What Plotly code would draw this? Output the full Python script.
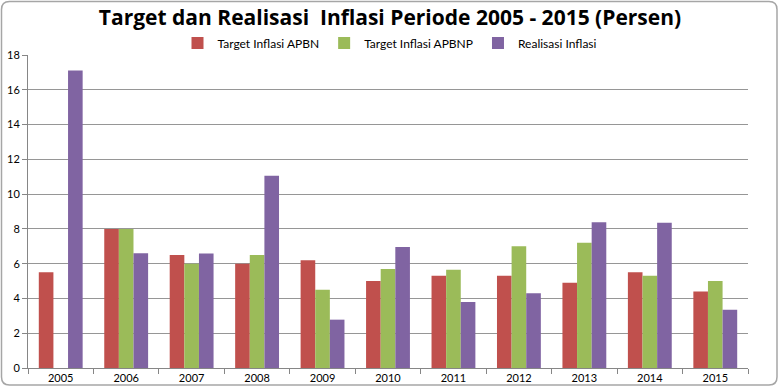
import plotly.graph_objects as go

years = ["2005", "2006", "2007", "2008", "2009", "2010", "2011", "2012", "2013", "2014", "2015"]
target_apbn = [5.5, 8.0, 6.5, 6.0, 6.2, 5.0, 5.3, 5.3, 4.9, 5.5, 4.4]
target_apbnp = [None, 8.0, 6.0, 6.5, 4.5, 5.7, 5.65, 7.0, 7.2, 5.3, 5.0]
realisasi = [17.11, 6.6, 6.59, 11.06, 2.78, 6.96, 3.79, 4.3, 8.38, 8.36, 3.35]

W, H = 780, 390
L, R, T, B = 28, 32, 55, 22
pw, ph = W - L - R, H - T - B

fig = go.Figure()
fig.add_bar(x=years, y=target_apbn, name="Target Inflasi APBN", marker_color="#C0504D", marker_line_width=0)
fig.add_bar(x=years, y=target_apbnp, name="Target Inflasi APBNP", marker_color="#9BBB59", marker_line_width=0)
fig.add_bar(x=years, y=realisasi, name="Realisasi Inflasi", marker_color="#8064A2", marker_line_width=0)

def px(x):
    return (x - L) / pw

def py(y):
    return (H - B - y) / ph

# rounded outer frame
x0, x1, y0, y1, r = 1.5, 777, 1.5, 385, 8
path = (f"M {px(x0+r)},{py(y0)} L {px(x1-r)},{py(y0)} Q {px(x1)},{py(y0)} {px(x1)},{py(y0+r)} "
        f"L {px(x1)},{py(y1-r)} Q {px(x1)},{py(y1)} {px(x1-r)},{py(y1)} "
        f"L {px(x0+r)},{py(y1)} Q {px(x0)},{py(y1)} {px(x0)},{py(y1-r)} "
        f"L {px(x0)},{py(y0+r)} Q {px(x0)},{py(y0)} {px(x0+r)},{py(y0)} Z")
fig.add_shape(type="path", path=path, xref="paper", yref="paper",
              line=dict(color="#A6A6A6", width=1.5), layer="below")

fig.update_layout(
    width=W, height=H,
    margin=dict(l=L, r=R, t=T, b=B, autoexpand=False),
    paper_bgcolor="white", plot_bgcolor="white",
    barmode="group", bargap=0.33, bargroupgap=0,
    font=dict(family="Lato, Open Sans, sans-serif", color="#000000"),
    title=dict(text="<b>Target dan Realisasi  Inflasi Periode 2005 - 2015 (Persen)</b>",
               x=0.5, xref="container", xanchor="center", y=1 - 18 / H, yref="container", yanchor="middle",
               font=dict(size=21, family="Open Sans, sans-serif", color="#000")),
    legend=dict(orientation="h", x=0.5, xanchor="center", xref="container", y=1 - 43 / H, yref="container", yanchor="middle",
                font=dict(size=12), itemwidth=30, traceorder="normal", bgcolor="rgba(0,0,0,0)"),
    showlegend=True,
)
fig.update_xaxes(type="category", tickson="boundaries", ticks="outside", ticklen=5, tickcolor="#868686",
                 showline=True, linecolor="#868686", linewidth=1, showgrid=False,
                 tickfont=dict(size=11), fixedrange=True)
fig.update_yaxes(range=[0, 18], dtick=2, ticks="outside", ticklen=5, tickcolor="#868686",
                 showline=True, linecolor="#868686", linewidth=1, showgrid=True, gridcolor="#969696", gridwidth=1,
                 zeroline=False, tickfont=dict(size=11), fixedrange=True)

fig.write_html("out.html", config={"displayModeBar": False},
               post_script="document.body.style.margin='0';document.body.style.overflow='hidden';")
